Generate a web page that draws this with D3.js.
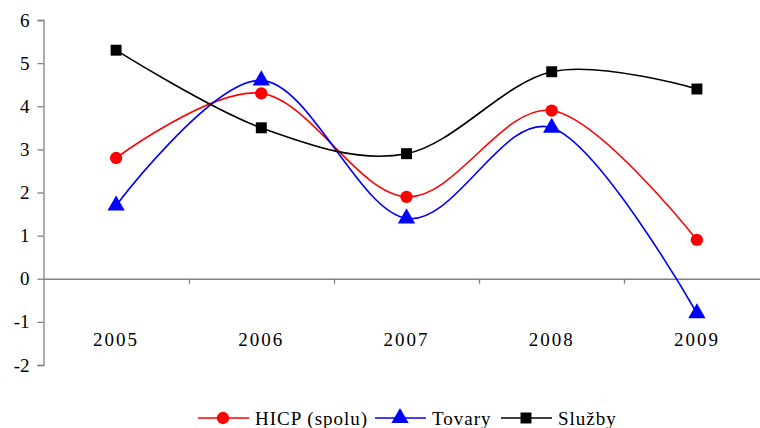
<!DOCTYPE html>
<head>
    <meta charset="utf-8">
    <title>HICP, Tovary, Služby</title>
</head>
<script src="https://d3js.org/d3.v7.min.js"></script>

<div id="graph"></div>

<script>
    // data
    var years = ["2005", "2006", "2007", "2008", "2009"];
    var hicp = [2.8, 4.3, 1.9, 3.9, 0.9];
    var tovary = [1.7, 4.6, 1.4, 3.5, -0.8];
    var sluzby = [5.3, 3.5, 2.9, 4.8, 4.4];
    var yTicks = [-2, -1, 0, 1, 2, 3, 4, 5, 6];

    var series = [
        {name: "HICP (spolu)", values: hicp, color: "#ff0000", shape: "circle"},
        {name: "Tovary", values: tovary, color: "#0000ff", shape: "triangle"},
        {name: "Služby", values: sluzby, color: "#000000", shape: "square"}
    ];

    var W = 760, H = 428;
    var font = "'Liberation Serif', serif";

    var svg = d3.select("#graph")
        .append("svg")
            .attr("width", W)
            .attr("height", H)
            .style("display", "block");

    var y = d3.scaleLinear()
        .domain([-2, 6])
        .range([365, 20]);

    var x = d3.scaleBand()
        .domain(years)
        .range([43.5, 769.5]);

    var xc = function(d) { return x(d) + x.bandwidth() / 2; };

    // y axis, plain hyphen for negatives like the original
    var yAxis = d3.axisLeft(y)
        .tickValues(yTicks)
        .tickSize(6)
        .tickPadding(8)
        .tickFormat(function(d) { return String(d); });

    var yGroup = svg.append("g")
        .attr("transform", "translate(43.5,0)")
        .call(yAxis);
    yGroup.select(".domain").attr("stroke", "#808080").attr("stroke-width", 1.3);
    yGroup.selectAll(".tick line").attr("stroke", "#808080").attr("stroke-width", 1.3);
    yGroup.selectAll(".tick text")
        .style("font-family", font)
        .style("font-size", "19px")
        .attr("fill", "#000");

    // x axis sits on zero, labels pushed down
    var xAxis = d3.axisBottom(x).tickSize(0).tickPadding(0);
    var xGroup = svg.append("g")
        .attr("transform", "translate(0," + y(0) + ")")
        .call(xAxis);
    xGroup.select(".domain").attr("stroke", "#808080").attr("stroke-width", 1.3);
    xGroup.selectAll(".tick text")
        .attr("y", 67)
        .attr("dy", 0)
        .style("font-family", font)
        .style("font-size", "19px")
        .style("letter-spacing", "2px")
        .attr("fill", "#000");

    // small ticks between categories
    svg.append("g").selectAll("line")
        .data(years.slice(1))
        .enter()
        .append("line")
            .attr("x1", function(d) { return Math.round(x(d)) + 0.5; })
            .attr("x2", function(d) { return Math.round(x(d)) + 0.5; })
            .attr("y1", y(0))
            .attr("y2", y(0) + 5)
            .attr("stroke", "#808080")
            .attr("stroke-width", 1.3);

    var line = d3.line()
        .x(function(d, i) { return xc(years[i]); })
        .y(function(d) { return y(d); })
        .curve(d3.curveCardinal.tension(0));

    var symbols = {
        circle: d3.symbol().type(d3.symbolCircle).size(120),
        triangle: d3.symbol().type(d3.symbolTriangle).size(130),
        square: d3.symbol().type(d3.symbolSquare).size(120)
    };

    series.forEach(function(s) {
        svg.append("path")
            .datum(s.values)
            .attr("d", line)
            .attr("fill", "none")
            .attr("stroke", s.color)
            .attr("stroke-width", 1.6);

        svg.append("g").selectAll("path")
            .data(s.values)
            .enter()
            .append("path")
                .attr("d", symbols[s.shape])
                .attr("transform", function(d, i) {
                    return "translate(" + xc(years[i]) + "," + y(d) + ")";
                })
                .attr("fill", s.color);
    });

    // legend
    var legendX = [198, 375, 501];
    var legendY = 418;
    var legend = svg.append("g");
    series.forEach(function(s, i) {
        var lx = legendX[i];
        legend.append("line")
            .attr("x1", lx).attr("x2", lx + 51)
            .attr("y1", legendY).attr("y2", legendY)
            .attr("stroke", s.color)
            .attr("stroke-width", 1.6);
        legend.append("path")
            .attr("d", symbols[s.shape])
            .attr("transform", "translate(" + (lx + 25) + "," + legendY + ")")
            .attr("fill", s.color);
        legend.append("text")
            .attr("x", lx + 57)
            .attr("y", legendY)
            .attr("dy", "0.35em")
            .text(s.name)
            .style("font-family", font)
            .style("font-size", "19px")
            .style("letter-spacing", "1px");
    });
</script>

<style>
    html, body {
        margin: 0;
        padding: 0;
        background-color: white;
        overflow: hidden;
    }
</style>
